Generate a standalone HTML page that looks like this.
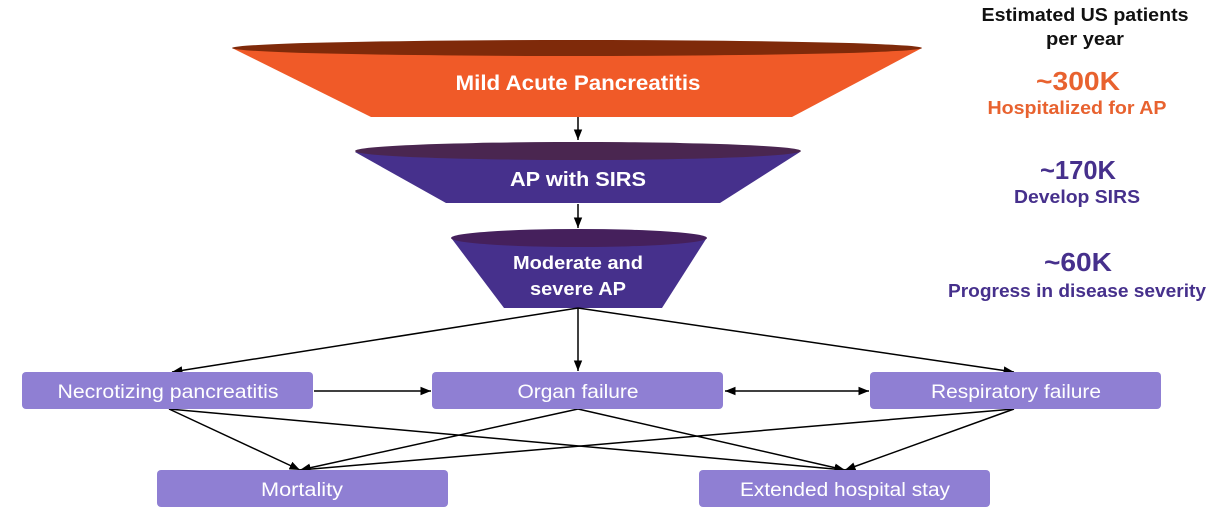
<!DOCTYPE html>
<html><head><meta charset="utf-8"><style>
html,body{margin:0;padding:0;background:#fff;}
svg{display:block;font-family:"Liberation Sans",sans-serif;}
</style></head><body>
<svg width="1226" height="518" viewBox="0 0 1226 518" xmlns="http://www.w3.org/2000/svg">
<defs>
<marker id="a" viewBox="0 0 10 10" refX="10" refY="5" markerWidth="7" markerHeight="7" orient="auto-start-reverse"><path d="M0,1 L10,5 L0,9 z" fill="#000"/></marker>
</defs>
<polygon points="232,48 922,48 792,117 371,117" fill="#F05A28"/>
<ellipse cx="577" cy="48" rx="345" ry="8" fill="#7F2A0A"/>
<text x="578" y="90" font-size="21" font-weight="bold" fill="#fff" text-anchor="middle" textLength="245" lengthAdjust="spacingAndGlyphs">Mild Acute Pancreatitis</text>
<polygon points="355,152 800,152 720,203 446,203" fill="#46308C"/>
<ellipse cx="578" cy="151" rx="223" ry="9" fill="#4A2650"/>
<text x="578" y="186" font-size="20" font-weight="bold" fill="#fff" text-anchor="middle" textLength="136" lengthAdjust="spacingAndGlyphs">AP with SIRS</text>
<polygon points="452,239 706,239 662,308 504,308" fill="#46308C"/>
<ellipse cx="579" cy="238" rx="128" ry="9" fill="#45205C"/>
<text x="578" y="269" font-size="18" font-weight="bold" fill="#fff" text-anchor="middle" textLength="130" lengthAdjust="spacingAndGlyphs">Moderate and</text>
<text x="578" y="295" font-size="18" font-weight="bold" fill="#fff" text-anchor="middle" textLength="96" lengthAdjust="spacingAndGlyphs">severe AP</text>
<g font-weight="bold" text-anchor="middle">
<text x="1085" y="21" font-size="18" fill="#111" textLength="207" lengthAdjust="spacingAndGlyphs">Estimated US patients</text>
<text x="1085" y="45" font-size="18" fill="#111" textLength="78" lengthAdjust="spacingAndGlyphs">per year</text>
<text x="1078" y="90" font-size="26" fill="#E8622F" textLength="84" lengthAdjust="spacingAndGlyphs">~300K</text>
<text x="1077" y="114" font-size="18" fill="#E8622F" textLength="179" lengthAdjust="spacingAndGlyphs">Hospitalized for AP</text>
<text x="1078" y="179" font-size="26" fill="#46308C" textLength="76" lengthAdjust="spacingAndGlyphs">~170K</text>
<text x="1077" y="203" font-size="18" fill="#46308C" textLength="126" lengthAdjust="spacingAndGlyphs">Develop SIRS</text>
<text x="1078" y="271" font-size="26" fill="#46308C" textLength="68" lengthAdjust="spacingAndGlyphs">~60K</text>
<text x="1077" y="297" font-size="18" fill="#46308C" textLength="258" lengthAdjust="spacingAndGlyphs">Progress in disease severity</text>
</g>
<g stroke="#000" stroke-width="1.5" fill="none" marker-end="url(#a)">
<line x1="578" y1="117" x2="578" y2="140"/>
<line x1="578" y1="204" x2="578" y2="228"/>
<line x1="578" y1="308" x2="172" y2="372"/>
<line x1="578" y1="308" x2="578" y2="371"/>
<line x1="578" y1="308" x2="1014" y2="372"/>
<line x1="314" y1="391" x2="431" y2="391"/>
<line x1="725" y1="391" x2="869" y2="391" marker-start="url(#a)"/>
<line x1="169" y1="409" x2="300" y2="470"/>
<line x1="169" y1="409" x2="845" y2="470"/>
<line x1="578" y1="409" x2="300" y2="470"/>
<line x1="578" y1="409" x2="845" y2="470"/>
<line x1="1014" y1="409" x2="300" y2="470"/>
<line x1="1014" y1="409" x2="845" y2="470"/>
</g>
<g fill="#8F7FD3">
<rect x="22" y="372" width="291" height="37" rx="4"/>
<rect x="432" y="372" width="291" height="37" rx="4"/>
<rect x="870" y="372" width="291" height="37" rx="4"/>
<rect x="157" y="470" width="291" height="37" rx="4"/>
<rect x="699" y="470" width="291" height="37" rx="4"/>
</g>
<g font-size="19" fill="#fff" text-anchor="middle">
<text x="168" y="398" textLength="221" lengthAdjust="spacingAndGlyphs">Necrotizing pancreatitis</text>
<text x="578" y="398" textLength="121" lengthAdjust="spacingAndGlyphs">Organ failure</text>
<text x="1016" y="398" textLength="170" lengthAdjust="spacingAndGlyphs">Respiratory failure</text>
<text x="302" y="496" textLength="82" lengthAdjust="spacingAndGlyphs">Mortality</text>
<text x="845" y="496" textLength="210" lengthAdjust="spacingAndGlyphs">Extended hospital stay</text>
</g>
</svg>
</body></html>
